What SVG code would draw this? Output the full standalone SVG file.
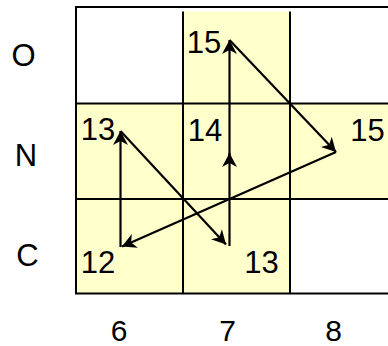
<svg xmlns="http://www.w3.org/2000/svg" width="388" height="346" viewBox="0 0 388 346">
  <style>
    .cell { fill: #FFFFCC; stroke: none; }
    .grid { stroke: #000; stroke-width: 2; fill: none; }
    .lbl { font-family: "Liberation Sans", Arial, sans-serif; font-size: 31px; fill: #000; text-anchor: middle; }
    .ax { font-size: 30px; }
    .arrow { stroke: #000; stroke-width: 2.2; fill: none; marker-end: url(#head); }
  </style>
  <defs>
    <marker id="head" markerUnits="userSpaceOnUse" markerWidth="16" markerHeight="18" viewBox="-15 -9 16 18" refX="0" refY="0" orient="auto">
      <path d="M0,0 L-14,-7.5 L-10,0 L-14,7.5 Z" fill="#000"/>
    </marker>
  </defs>

  <g id="background">
    <rect class="cell" x="183" y="11.5" width="107" height="282"/>
    <rect class="cell" x="76" y="103" width="312" height="96"/>
    <rect class="cell" x="76" y="199" width="214" height="94"/>
  </g>

  <g id="grid">
    <line class="grid" x1="75" y1="7" x2="388" y2="7"/>
    <line class="grid" x1="76" y1="6" x2="76" y2="294"/>
    <line class="grid" x1="75" y1="293.5" x2="388" y2="293.5"/>
    <line class="grid" x1="76" y1="103.5" x2="388" y2="103.5"/>
    <line class="grid" x1="76" y1="199" x2="388" y2="199"/>
    <line class="grid" x1="183" y1="11.5" x2="183" y2="293"/>
    <line class="grid" x1="290" y1="11.5" x2="290" y2="293"/>
  </g>

  <g id="axis-labels">
    <text class="lbl" x="23.5" y="66">O</text>
    <text class="lbl" x="26" y="166">N</text>
    <text class="lbl" x="27.5" y="265.5">C</text>
    <text class="lbl ax" x="119" y="341">6</text>
    <text class="lbl ax" x="227.5" y="341">7</text>
    <text class="lbl ax" x="333.5" y="341">8</text>
  </g>

  <g id="node-O7"><text class="lbl" x="204" y="53">15</text></g>
  <g id="node-N6"><text class="lbl" x="98" y="139.5">13</text></g>
  <g id="node-N7"><text class="lbl" x="205" y="141">14</text></g>
  <g id="node-N8"><text class="lbl" x="367.5" y="141">15</text></g>
  <g id="node-C6"><text class="lbl" x="98" y="272.5">12</text></g>
  <g id="node-C7"><text class="lbl" x="261.5" y="272.5">13</text></g>

  <g id="connectors">
    <line class="arrow" x1="120.5" y1="247" x2="120.5" y2="131"/>
    <line class="arrow" x1="120.5" y1="131" x2="226" y2="244.5"/>
    <line class="arrow" x1="229.5" y1="246" x2="229.5" y2="153"/>
    <line class="arrow" x1="229.5" y1="160" x2="229.5" y2="40"/>
    <line class="arrow" x1="229.5" y1="40" x2="336" y2="152"/>
    <line class="arrow" x1="336" y1="152" x2="122" y2="246.5"/>
  </g>
</svg>
